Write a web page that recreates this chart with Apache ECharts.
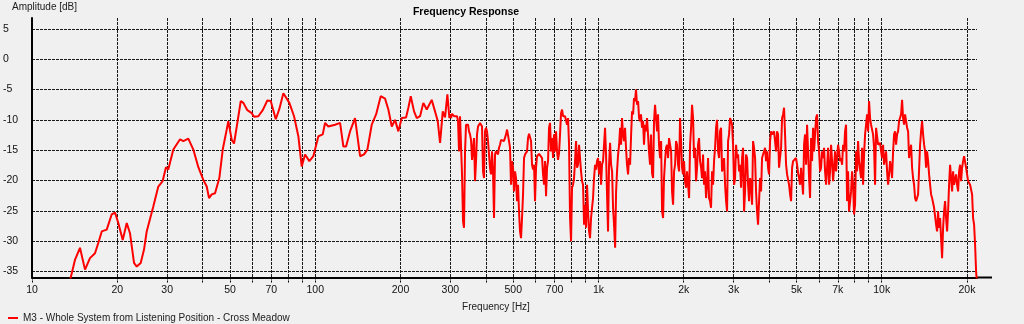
<!DOCTYPE html>
<html><head><meta charset="utf-8">
<script src="https://cdn.jsdelivr.net/npm/echarts@6/dist/echarts.min.js"></script>
<style>html,body{margin:0;padding:0;background:#f0f0f0;}#c{width:1024px;height:324px;}</style>
</head><body><div id="c"></div>
<script>
// ---- data (Hz, dB) ----
const lowFreq = [13.62,14.18,14.77,15.39,16.02,16.69,17.14,17.63,18.36,19.11,19.64,20.17,20.91,21.60,22.18,22.92,23.43,24.20,24.86,25.41,26.81,27.92,28.93,29.72,30.28,31.55,33.32,34.22,35.64,37.12,38.66,40.26,41.39,42.17,43.11,44.28,45.86,47.14,48.70,49.34,50.72,51.68,52.84,54.58,55.75,57.59,59.69,60.81,62.97,65.26,67.75,69.65,72.54,74.70,77.17,78.24,81.03,84.18,87.17,89.61,92.05,95.32,98.47,102.6,106.3,108.3,111.2,117.5,122.4,125.7,128.5,132.7,138.2,144.0,148.7,152.8,158.3,164.0,170.3,176.4,181.2,186.3,191.3,196.6,202.0,209.2,213.2,217.4,223.3,228.3,234.5,240.8,247.6,257.8,264.8,270.7,275.9,282.0,287.3,292.8,297.6];
const lowDb = [-36.5,-33.1,-31.1,-34.7,-32.8,-32.0,-30.3,-28.4,-28.1,-25.6,-25.3,-27.0,-29.8,-27.0,-28.7,-33.6,-34.2,-33.6,-31.4,-28.4,-24.3,-21.0,-20.1,-17.8,-18.2,-14.9,-13.2,-13.5,-13.1,-14.9,-17.8,-19.9,-21.0,-22.9,-22.3,-22.1,-19.6,-14.9,-11.6,-10.2,-13.3,-13.9,-11.1,-6.9,-7.2,-8.4,-8.9,-9.5,-9.4,-8.4,-6.8,-6.9,-9.9,-8.2,-5.6,-5.8,-7.2,-9.4,-12.7,-17.7,-15.7,-16.8,-16.0,-12.7,-12.4,-10.5,-11.1,-10.8,-10.5,-14.4,-14.4,-11.9,-9.7,-16.0,-15.7,-14.9,-10.8,-9.1,-6.1,-6.5,-8.3,-11.1,-10.0,-11.9,-9.7,-9.6,-8.0,-6.1,-8.6,-9.7,-9.4,-7.2,-8.3,-6.7,-8.6,-10.2,-13.8,-8.6,-9.6,-5.8,-9.7];

const midFreq = [299.2,301.6,304.1,306.6,309.1,311.6,314.1,316.7,319.3,321.9,
324.5,327.2,329.8,332.5,335.2,338.0,340.7,343.5,346.3,349.1,
352.0,354.9,357.8,360.7,363.6,366.6,369.6,372.6,375.6,378.7,
381.8,384.9,388.0,391.2,394.4,397.6,400.8,404.1,407.4,410.7,
414.1,417.5,420.9,424.3,427.8,431.3,434.8,438.4,441.9,445.5,
449.2,452.9,456.6,460.3,464.1,467.9,471.7,475.6,479.4,483.3,
487.2,491.2,495.2,499.3,503.3,507.4,511.6,515.8,520.0,524.2,
528.5,532.8,537.2,541.6,546.0,550.5,555.0,559.5,564.1,568.7,
573.3,578.0,582.7,587.5,592.3,597.1,602.0,606.9,611.9,616.9,
621.9,627.0,632.1,637.3,642.5,647.7,653.0,658.3,663.7,669.1,
674.6,680.1,685.7,691.3,696.9,702.6,708.3,714.1,719.9,725.8,
731.7,737.7,743.7,749.8,755.9,762.1,768.3,774.6,780.9,787.3,
793.7,800.2,806.7,813.3,819.9,826.6,833.4,840.2,847.0,854.0,
860.9,867.9,875.0,882.2,889.4,896.6,904.0,911.3,918.8,926.3,
933.8,941.4,949.1,956.9,964.7,972.6,980.5,988.5,996.6,1004.7,
1012.9,1021.2,1029.5,1037.9,1046.4,1054.9,1063.5,1072.2,1080.9,1089.8];
const midDb = [-9.1,-9.7,-9.0,-8.9,-9.4,-9.7,-9.1,-9.4,-10.2,-15.2,
-9.4,-9.1,-19.0,-26.7,-27.8,-15.2,-10.8,-10.5,-10.8,-11.9,
-12.4,-13.3,-16.6,-16.8,-13.0,-20.1,-16.8,-12.4,-11.1,-10.8,
-10.5,-10.7,-11.1,-18.5,-19.6,-11.9,-11.3,-11.9,-13.5,-15.7,
-17.9,-19.0,-15.2,-18.5,-26.2,-15.7,-15.2,-15.5,-15.7,-14.6,
-14.1,-13.3,-13.0,-13.3,-13.5,-13.8,-12.4,-11.6,-11.3,-13.5,
-14.6,-20.7,-16.8,-17.9,-21.8,-18.5,-19.6,-23.4,-20.7,-25.1,
-28.4,-29.5,-26.2,-22.3,-16.3,-15.7,-15.5,-15.2,-13.0,-12.3,
-12.2,-13.5,-17.4,-18.2,-17.4,-23.4,-17.9,-16.0,-15.7,-15.6,
-15.5,-15.7,-16.3,-19.0,-20.7,-16.8,-22.6,-17.9,-16.8,-11.3,
-10.5,-15.2,-13.0,-16.3,-12.4,-15.2,-11.9,-15.2,-16.6,-15.5,
-12.4,-8.9,-8.3,-9.4,-9.7,-9.4,-9.1,-10.8,-9.7,-14.1,
-26.2,-30.0,-21.2,-20.7,-19.6,-16.8,-13.5,-17.9,-17.4,-14.1,
-16.3,-18.5,-20.1,-20.7,-27.3,-24.0,-27.8,-20.7,-25.1,-28.4,
-29.5,-26.2,-24.5,-22.9,-19.6,-17.4,-18.2,-16.8,-16.3,-19.0,
-16.8,-20.7,-17.4,-16.8,-14.1,-11.3,-15.7,-22.3,-28.4,-17.4];

const highFreq = [1099,1117,1135,1145,1154,1173,
1192,1211,1231,1251,1272,
1293,1314,1335,1357,1380,
1402,1425,1448,1472,1496,
1521,1546,1571,1597,1623,
1650,1677,1704,1732,1761,
1790,1819,1849,1879,1910,
1941,1973,2005,2038,2072,
2106,2140,2175,2211,2247,
2284,2321,2359,2398,2437,
2477,2518,2559,2601,2644,
2687,2731,2776,2822,2868,
2915,2963,3011,3061,3111,
3162,3214,3266,3320,3374,
3430,3486,3543,3601,3660,
3720,3781,3843,3906,3970,
4035,4101,4168,4237,4306,
4377,4449,4521,4596,4671,
4748,4826,4904,4985,5067,
5150,5234,5320,5407,5496,
5586,5678,5770,5865,5961,
6059,6158,6259,6362,6466,
6572,6680,6789,6901,7014,
7129,7246,7364,7485,7608,
7733,7860,7988,8120,8252,
8388,8526,8665,8807,8952,9024,
9098,9247,9398,9553,9709,
9869,10031,10195,10362,10532,
10705,10881,11059,11240,11424,
11612,11802,11995,12193,12393,
12596,12803,13012,13226,13442,
13663,13887,14114,14346,14581,
14820,15063,15309,15561,15816,
16075,16339,16606,16879,17155,
17437,17723,18013,18309,18609,
18914,19224,19539,19860,20185,
20516,20852,21194,21367,21541,21700];
const highDb = [-13.8,-18.5,-27.3,-31.1,-21.8,-15.7,
-11.3,-9.7,-13.5,-14.6,-19.0,
-17.4,-8.6,-6.4,-5.0,-6.9,
-10.2,-11.3,-14.1,-11.9,-12.4,
-17.4,-18.8,-10.2,-9.7,-9.1,
-16.3,-25.1,-19.6,-14.6,-16.3,
-13.0,-21.8,-18.5,-13.5,-17.4,
-9.7,-17.9,-16.8,-21.2,-20.7,
-14.1,-7.5,-16.3,-20.1,-14.1,
-16.8,-19.6,-20.7,-22.9,-16.3,
-23.4,-18.5,-16.8,-11.3,-15.2,
-11.9,-18.5,-16.3,-23.4,-13.5,
-9.7,-10.8,-20.7,-14.1,-15.7,
-17.4,-16.3,-25.1,-15.7,-20.7,
-19.6,-24.0,-14.6,-21.8,-27.3,
-19.6,-16.3,-15.2,-16.8,-17.9,
-13.5,-12.4,-11.9,-15.2,-12.4,
-17.9,-9.7,-8.0,-17.4,-19.0,
-22.3,-17.9,-17.1,-16.3,-18.8,
-20.7,-17.9,-14.1,-17.4,-15.2,
-22.9,-16.8,-15.2,-9.7,-13.5,
-18.5,-15.2,-14.6,-20.7,-14.6,
-18.5,-16.8,-17.9,-18.5,-14.1,
-16.8,-17.4,-15.2,-10.8,-18.5,
-25.1,-18.5,-25.6,-15.2,-13.5,
-16.8,-14.6,-15.7,-10.8,-11.9,-6.9,
-9.7,-10.8,-14.6,-11.3,-14.1,
-13.8,-16.3,-17.4,-15.2,-20.7,
-16.8,-19.6,-12.4,-14.1,-11.9,
-10.2,-6.7,-10.8,-9.1,-11.9,
-16.3,-17.9,-20.7,-23.4,-22.3,
-14.1,-10.2,-14.1,-17.9,-16.8,
-20.7,-22.9,-24.5,-27.3,-25.1,
-26.2,-32.8,-25.1,-26.2,-25.1,
-17.4,-21.8,-20.7,-19.0,-21.8,
-17.4,-17.9,-16.0,-17.9,-20.1,
-20.7,-22.3,-27.3,-30.6,-35.0,-37.0];

// in-between samples of the noisy high band
const highFreqB = [1108,1126,1163,1183,1202,1221,1241,1261,1282,
1304,1325,1346,1368,1391,1413,1437,1460,1484,1508,
1533,1559,1584,1610,1636,1664,1691,1718,1746,1775,
1805,1834,1864,1894,1926,1957,1989,2021,2055,2089,
2123,2158,2193,2229,2265,2303,2340,2378,2418,2457,
2497,2539,2580,2622,2666,2709,2753,2799,2845,2891,
2939,2987,3036,3086,3136,3188,3240,3293,3347,3402,
3458,3514,3572,3630,3690,3750,3812,3874,3938,4002,
4068,4135,4202,4272,4341,4413,4485,4558,4634,4709,
4787,4865,4944,5026,5108,5192,5277,5363,5451,5541,
5632,5724,5817,5913,6010,6108,6208,6310,6414,6519,
6626,6735,6844,6957,7071,7187,7305,7424,7546,7670,
7796,7924,8053,8186,8319,8456,8596,8736,8879,
9172,9322,9475,9631,9788,9950,10113,10278,10447,10618,
10792,10970,11149,11332,11517,11707,11898,12093,12292,12494,
12699,12907,13118,13334,13552,13774,14000,14229,14463,14700,
14941,15186,15434,15688,15945,16206,16472,16741,17017,17295,
17579,17868,18160,18458,18761,19068,19381,19698,20022,20350,
20683,21022];
const highDbB = [-17.4,-24.5,-18.5,-14.1,-14.1,-12.4,-11.3,-17.4,-16.3,
-12.4,-9.1,-6.9,-7.5,-9.7,-9.1,-10.2,-10.8,-9.7,-15.2,
-12.4,-19.6,-7.5,-11.9,-14.1,-13.5,-26.2,-16.8,-14.1,-13.0,
-15.2,-24.0,-17.4,-14.1,-18.5,-13.5,-19.0,-20.1,-18.5,-22.9,
-11.3,-9.7,-14.6,-17.9,-13.0,-17.9,-15.7,-18.5,-20.7,-22.9,
-24.5,-20.7,-14.6,-10.0,-16.3,-11.3,-17.9,-20.7,-25.1,-12.4,
-10.2,-14.1,-19.6,-16.3,-18.5,-21.2,-14.6,-21.8,-16.3,-23.4,
-20.7,-13.5,-16.3,-25.1,-23.4,-21.8,-15.7,-14.6,-15.2,-19.0,
-11.9,-12.4,-13.5,-11.9,-17.9,-14.6,-9.1,-12.4,-19.0,-20.7,
-23.4,-16.8,-16.8,-17.4,-19.6,-17.9,-22.3,-12.4,-10.8,-19.6,
-13.0,-11.3,-12.4,-9.1,-15.2,-17.9,-16.3,-18.5,-17.9,-20.7,
-14.1,-20.1,-15.2,-16.3,-15.2,-16.3,-14.1,-11.9,-23.4,-25.1,
-21.8,-20.7,-24.0,-18.5,-16.8,-19.6,-20.7,-12.4,-9.1,
-10.8,-12.4,-20.7,-11.3,-14.1,-15.2,-14.1,-17.4,-18.5,-19.0,
-17.9,-15.2,-11.9,-12.4,-10.2,-9.1,-9.7,-9.1,-11.3,-16.3,
-14.1,-19.6,-22.9,-23.4,-22.3,-11.9,-12.4,-15.2,-15.2,-19.0,
-22.3,-22.9,-24.5,-28.4,-27.8,-29.5,-27.8,-23.4,-28.4,-20.7,
-19.6,-18.5,-20.7,-20.7,-18.5,-20.1,-16.8,-16.3,-19.0,-20.4,
-20.7,-26.2];

const yTickValues = [5,0,-5,-10,-15,-20,-25,-30,-35];
const xGridValues = [10,20,30,40,50,60,70,80,90,100,200,300,400,500,600,700,800,900,1000,2000,3000,4000,5000,6000,7000,8000,9000,10000,20000];
const xLabelValues = [10,20,30,50,70,100,200,300,500,700,1000,2000,3000,5000,7000,10000,20000];
const seriesName = 'M3 - Whole System from Listening Position - Cross Meadow';
const chartTitle = 'Frequency Response';
const yName = 'Amplitude [dB]';
const xName = 'Frequency [Hz]';

// ---- build ----
const pairs = (fs, ds) => fs.map((f, i) => [f, ds[i]]);
const points = pairs(lowFreq, lowDb)
  .concat(pairs(midFreq, midDb), pairs(highFreq, highDb), pairs(highFreqB, highDbB))
  .sort((a, b) => a[0] - b[0]);

const FONT = "'Liberation Sans', Arial, sans-serif";
const gridLine = {show: true, lineStyle: {color: '#1a1a1a', width: 1, type: [3, 1]}};

const chart = echarts.init(document.getElementById('c'), null, {renderer: 'canvas'});
chart.setOption({
  animation: false,
  backgroundColor: '#f0f0f0',
  textStyle: {fontFamily: FONT},
  grid: {left: 32, right: 47, top: 18, bottom: 46.5, containLabel: false},
  legend: {
    left: 3, top: 308, icon: 'rect', itemWidth: 10, itemHeight: 2, itemGap: 5,
    textStyle: {fontSize: 10, color: '#202020', fontFamily: FONT},
    data: [{name: seriesName, itemStyle: {color: '#ff0000'}}]
  },
  xAxis: {
    type: 'log', logBase: 10, min: 10, max: 21700,
    axisLine: {show: true, onZero: false, lineStyle: {color: '#000', width: 2}},
    axisTick: {show: true, customValues: xGridValues, length: 6, lineStyle: {color: '#000', type: [2, 1]}},
    axisLabel: {
      customValues: xLabelValues, color: '#111', fontSize: 10.5, fontFamily: FONT, margin: 7,
      formatter: v => (v >= 1000 ? (v / 1000) + 'k' : String(v))
    },
    splitLine: gridLine,
    minorTick: {show: false}, minorSplitLine: {show: false}
  },
  yAxis: {
    type: 'value', min: -36, max: 6.8,
    axisLine: {show: true, onZero: false, lineStyle: {color: '#000', width: 2}},
    axisTick: {show: false, customValues: yTickValues},
    axisLabel: {customValues: yTickValues, align: 'left', margin: 29, color: '#111', fontSize: 10.5, fontFamily: FONT},
    splitLine: gridLine
  },
  series: [{
    name: seriesName, type: 'line', data: points, showSymbol: false, clip: true,
    lineStyle: {color: '#ff0000', width: 2}, itemStyle: {color: '#ff0000'}
  }],
  graphic: [
    {type: 'text', style: {text: chartTitle, x: 466, y: 12, textAlign: 'center', textVerticalAlign: 'middle', font: 'bold 10.5px ' + FONT, fill: '#000'}},
    {type: 'text', style: {text: yName, x: 12, y: 7, textAlign: 'left', textVerticalAlign: 'middle', font: '10px ' + FONT, fill: '#202020'}},
    {type: 'text', style: {text: xName, x: 496, y: 307, textAlign: 'center', textVerticalAlign: 'middle', font: '10px ' + FONT, fill: '#202020'}},
    {type: 'line', shape: {x1: 977, y1: 277.5, x2: 992, y2: 277.5}, style: {stroke: '#000', lineWidth: 2}}
  ]
});
</script>
</body></html>
